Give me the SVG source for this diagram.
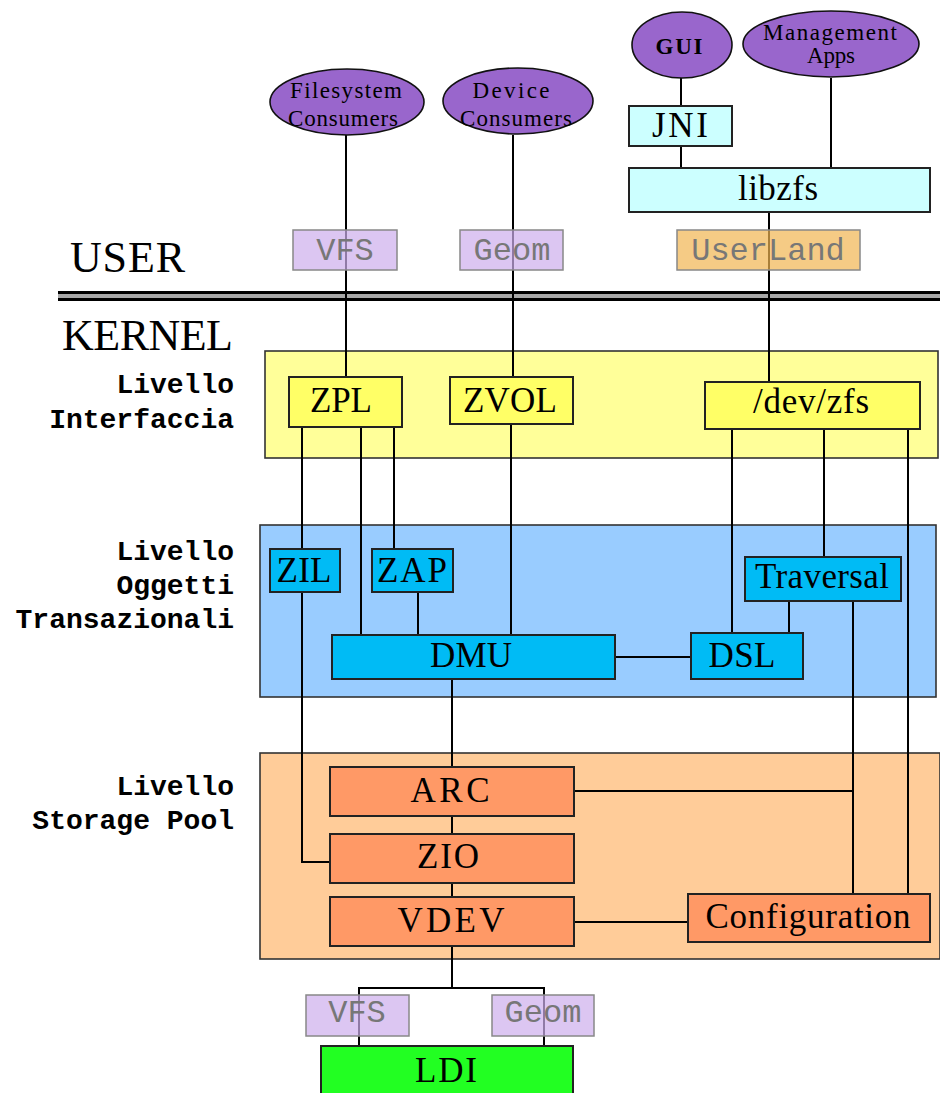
<svg xmlns="http://www.w3.org/2000/svg" width="940" height="1093" viewBox="0 0 940 1093">
<style>
.ell{fill:#9966cc;stroke:#111;stroke-width:1.6}
.et{font-family:"Liberation Serif",serif;font-size:23px;fill:#000;text-anchor:middle}
.node{stroke:#222;stroke-width:2}
.nt{font-family:"Liberation Serif",serif;font-size:35px;fill:#000;text-anchor:middle}
.cyan{fill:#ccffff}
.yl{fill:#ffff66}
.bl{fill:#00bbf5}
.or{fill:#ff9966}
.layer{stroke:#333;stroke-width:1.6}
.lab{stroke:#888;stroke-width:1.5;fill-opacity:0.7}
.lt{font-family:"Liberation Mono",monospace;font-size:32px;fill:#777;text-anchor:middle}
.lvl{font-family:"Liberation Mono",monospace;font-size:28px;font-weight:bold;fill:#000;text-anchor:end}
.big{font-family:"Liberation Serif",serif;font-size:44px;fill:#000}
.c{stroke:#000;stroke-width:2;fill:none}
</style>

<!-- layers -->
<g id="layer-interfaccia"><rect class="layer" x="265" y="351" width="673" height="107" fill="#ffff99"/></g>
<g id="layer-oggetti"><rect class="layer" x="260" y="525" width="676" height="172" fill="#99ccff"/></g>
<g id="layer-storage"><rect class="layer" x="260" y="753" width="680" height="206" fill="#ffcc99"/></g>

<!-- USER / KERNEL separator -->
<g id="separator">
<rect x="58" y="291" width="882" height="10" fill="#a8a8a8"/>
<line x1="58" y1="292.5" x2="940" y2="292.5" stroke="#000" stroke-width="3"/>
<line x1="58" y1="299.5" x2="940" y2="299.5" stroke="#000" stroke-width="3"/>
</g>
<text class="big" x="70" y="272" textLength="115">USER</text>
<text class="big" x="62" y="350" textLength="171">KERNEL</text>

<text class="lvl" x="234" y="393">Livello</text>
<text class="lvl" x="234" y="428">Interfaccia</text>
<text class="lvl" x="234" y="560">Livello</text>
<text class="lvl" x="234" y="594">Oggetti</text>
<text class="lvl" x="234" y="628">Transazionali</text>
<text class="lvl" x="234" y="795">Livello</text>
<text class="lvl" x="234" y="829">Storage Pool</text>

<!-- connectors -->
<g id="connectors">
<path class="c" d="M346 135V377"/>
<path class="c" d="M513 135V377"/>
<path class="c" d="M681 78V106M681 146V168"/>
<path class="c" d="M831 78V168"/>
<path class="c" d="M769 212V382"/>
<path class="c" d="M302 427V862H330"/>
<path class="c" d="M361 427V635"/>
<path class="c" d="M394 427V549"/>
<path class="c" d="M418 592V635"/>
<path class="c" d="M511 424V635"/>
<path class="c" d="M732 429V633"/>
<path class="c" d="M824 429V557"/>
<path class="c" d="M908 429V894"/>
<path class="c" d="M789 601V633"/>
<path class="c" d="M853 601V894"/>
<path class="c" d="M574 791H853"/>
<path class="c" d="M615 657H691"/>
<path class="c" d="M452 679V767"/>
<path class="c" d="M452 816V834M452 883V897"/>
<path class="c" d="M574 922H688"/>
<path class="c" d="M452 946V988M359 1046V988H544V1046"/>
</g>

<!-- user space nodes -->
<g id="filesystem-consumers"><ellipse class="ell" cx="347" cy="102" rx="77" ry="33"/>
<text class="et" x="346" y="98" textLength="112">Filesystem</text>
<text class="et" x="343" y="126" textLength="110">Consumers</text></g>
<g id="device-consumers"><ellipse class="ell" cx="518" cy="101" rx="75" ry="33"/>
<text class="et" x="511" y="98" textLength="77">Device</text>
<text class="et" x="516" y="126" textLength="112">Consumers</text></g>
<g id="gui"><ellipse class="ell" cx="682" cy="45" rx="50" ry="33"/>
<text class="et" x="679" y="54" font-size="21" font-weight="bold" textLength="47">GUI</text></g>
<g id="management-apps"><ellipse class="ell" cx="831" cy="44" rx="88" ry="33"/>
<text class="et" x="830" y="40" textLength="134">Management</text>
<text class="et" x="831" y="63" textLength="48">Apps</text></g>
<g id="jni"><rect class="node cyan" x="629" y="106" width="103" height="40"/>
<text class="nt" x="680" y="137" font-size="32" textLength="56">JNI</text></g>
<g id="libzfs"><rect class="node cyan" x="629" y="168" width="301" height="44"/>
<text class="nt" x="778" y="200" font-size="32" textLength="80">libzfs</text></g>

<!-- interface level -->
<g id="zpl"><rect class="node yl" x="289" y="377" width="113" height="50"/>
<text class="nt" x="341" y="412" textLength="62">ZPL</text></g>
<g id="zvol"><rect class="node yl" x="450" y="377" width="123" height="47"/>
<text class="nt" x="510" y="412" textLength="94">ZVOL</text></g>
<g id="dev-zfs"><rect class="node yl" x="705" y="382" width="215" height="47"/>
<text class="nt" x="811" y="413" font-size="32" textLength="116">/dev/zfs</text></g>

<!-- transactional objects level -->
<g id="zil"><rect class="node bl" x="270" y="549" width="70" height="43"/>
<text class="nt" x="304" y="582" font-size="33" textLength="55">ZIL</text></g>
<g id="zap"><rect class="node bl" x="372" y="549" width="81" height="43"/>
<text class="nt" x="412" y="582" font-size="34" textLength="70">ZAP</text></g>
<g id="traversal"><rect class="node bl" x="745" y="557" width="156" height="44"/>
<text class="nt" x="822" y="588" font-size="32" textLength="134">Traversal</text></g>
<g id="dmu"><rect class="node bl" x="332" y="635" width="283" height="44"/>
<text class="nt" x="471" y="667" font-size="34" textLength="82">DMU</text></g>
<g id="dsl"><rect class="node bl" x="691" y="633" width="112" height="46"/>
<text class="nt" x="742" y="667" font-size="34" textLength="67">DSL</text></g>

<!-- storage pool level -->
<g id="arc"><rect class="node or" x="330" y="767" width="244" height="49"/>
<text class="nt" x="450" y="802" font-size="36" textLength="79">ARC</text></g>
<g id="zio"><rect class="node or" x="330" y="834" width="244" height="49"/>
<text class="nt" x="448" y="868" font-size="36" textLength="62">ZIO</text></g>
<g id="vdev"><rect class="node or" x="330" y="897" width="244" height="49"/>
<text class="nt" x="451" y="932" font-size="36" textLength="107">VDEV</text></g>
<g id="configuration"><rect class="node or" x="688" y="894" width="242" height="48"/>
<text class="nt" x="808" y="928" font-size="33" textLength="205">Configuration</text></g>

<g id="ldi"><rect class="node" fill="#22ff22" x="321" y="1046" width="252" height="60"/>
<text class="nt" x="446" y="1082" font-size="36" textLength="62">LDI</text></g>

<!-- translucent labels -->
<g id="label-vfs-top"><rect class="lab" fill="#cdaeec" x="293" y="230" width="104" height="40"/>
<text class="lt" x="345" y="260">VFS</text></g>
<g id="label-geom-top"><rect class="lab" fill="#cdaeec" x="460" y="230" width="103" height="40"/>
<text class="lt" x="512" y="260">Geom</text></g>
<g id="label-userland"><rect class="lab" fill="#f1b551" x="677" y="230" width="183" height="40"/>
<text class="lt" x="768" y="260">UserLand</text></g>
<g id="label-vfs-bottom"><rect class="lab" fill="#cdaeec" x="306" y="995" width="103" height="41"/>
<text class="lt" x="357" y="1022">VFS</text></g>
<g id="label-geom-bottom"><rect class="lab" fill="#cdaeec" x="492" y="995" width="102" height="41"/>
<text class="lt" x="543" y="1022">Geom</text></g>
</svg>
